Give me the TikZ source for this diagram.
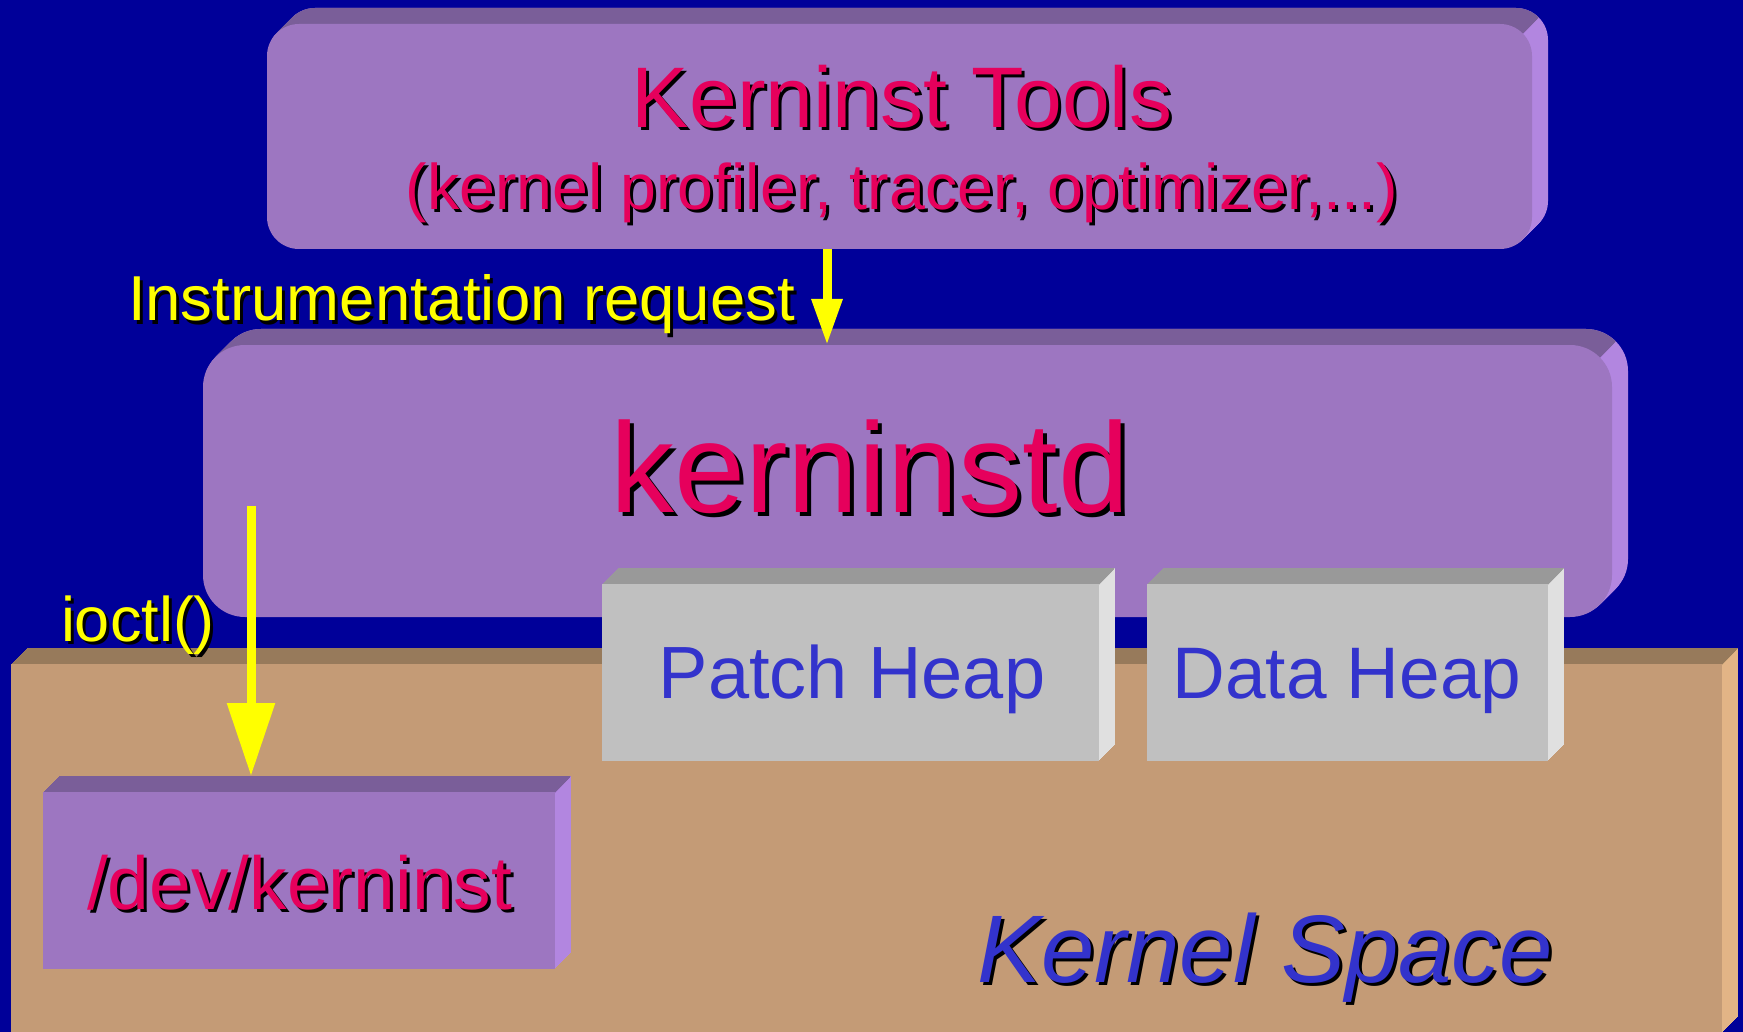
\documentclass[tikz,border=0pt]{standalone}
\usepackage{fontspec}
\setmainfont{Liberation Sans}
\usetikzlibrary{arrows.meta}

\definecolor{KBackdrop}{RGB}{0,0,153}
\definecolor{KViolet}{RGB}{157,118,193}
\definecolor{KVioletTop}{RGB}{122,94,153}
\definecolor{KVioletSide}{RGB}{178,134,224}
\definecolor{KTan}{RGB}{196,155,118}
\definecolor{KTanTop}{RGB}{151,122,91}
\definecolor{KTanSide}{RGB}{226,180,134}
\definecolor{KGrey}{RGB}{192,192,192}
\definecolor{KGreyTop}{RGB}{153,153,153}
\definecolor{KGreySide}{RGB}{224,224,224}
\definecolor{KCrimson}{RGB}{230,0,92}
\definecolor{KYellow}{RGB}{255,255,0}
\definecolor{KInk}{RGB}{51,51,204}
\definecolor{KArrowShade}{RGB}{128,0,128}

% text with a black drop shadow
\newcommand{\dropped}[3][3pt]{%
  \makebox[0pt][l]{\hspace*{#1}\raisebox{-#1}{\textcolor{black}{#3}}}\textcolor{#2}{#3}%
}
% slab with depth: name, left, top, right, bottom, corner radius, colour
\newcommand{\kslab}[7]{%
  \foreach \k in {1,...,16}
    \fill[#7Side, rounded corners=#6] ({#2+\k},{#3-\k}) rectangle ({#4+\k},{#5-\k});
  \begin{scope}
    \clip (#2-40,#3-40) -- (#4+40,#3-40) -- ({#4+#3-#5-40},#5+40) -- (#2-40,#5+40) -- cycle;
    \foreach \k in {1,...,16}
      \fill[#7Top, rounded corners=#6] ({#2+\k},{#3-\k}) rectangle ({#4+\k},{#5-\k});
  \end{scope}
  \node[slab, fill=#7, rounded corners=#6, minimum width=#4-#2, minimum height=#5-#3] (#1) at ({(#2+#4)/2},{(#3+#5)/2}) {};
}

\tikzset{
  slab/.style={draw=none, inner sep=0pt, outer sep=0pt},
  txt/.style={inner sep=0pt, outer sep=0pt},
  flow/.style={draw=KYellow, line width=9pt, preaction={draw=KArrowShade, transform canvas={xshift=3pt}}}
}

\begin{document}
\begin{tikzpicture}[x=1pt, y=-1pt]
    \fill[KBackdrop] (0,0) rectangle (1743,1032);
    \useasboundingbox (0,0) rectangle (1743,1032);

    % Kernel space
    \kslab{kspace}{11}{664}{1722}{1033}{0}{KTan}

    % kerninstd
    \kslab{kd}{203}{345}{1612}{617}{42}{KViolet}

    % Kerninst tools
    \kslab{tools}{267}{24}{1532}{249}{32}{KViolet}

    % Heaps
    \kslab{patch}{602}{584}{1099}{761}{0}{KGrey}
    \kslab{data}{1147}{584}{1548}{761}{0}{KGrey}

    % Device
    \kslab{dev}{43}{792}{555}{969}{0}{KViolet}

    % Texts
    \node[txt, anchor=base, font=\fontsize{86}{90}\selectfont] (toolstitle) at (902,128) {\dropped{KCrimson}{Kerninst Tools}};
    \node[txt, anchor=base, font=\fontsize{64.5}{68}\selectfont] (toolslist) at (902,210) {\dropped{KCrimson}{(kernel profiler, tracer, optimizer,...)}};
    \node[txt, anchor=base west, font=\fontsize{63.5}{68}\selectfont] (reqtext) at (128,321) {\dropped{KYellow}{Instrumentation request}};
    \node[txt, anchor=base west, font=\fontsize{128}{130}\selectfont] (kdtext) at (610,512) {\dropped[4pt]{KCrimson}{kerninstd}};
    \node[txt, anchor=base west, font=\fontsize{63}{66}\selectfont] (ioctltext) at (61,641) {\dropped{KYellow}{ioctl()}};
    \node[txt, anchor=base, font=\fontsize{74}{76}\selectfont, text=KInk] (patchtext) at (852,698) {Patch Heap};
    \node[txt, anchor=base, font=\fontsize{73}{76}\selectfont, text=KInk] (datatext) at (1347,698) {Data Heap};
    \node[txt, anchor=base west, font=\fontsize{75}{78}\selectfont] (devtext) at (87,909) {\dropped{KCrimson}{/dev/kerninst}};
    \node[txt, anchor=base west, font=\itshape\fontsize{96}{100}\selectfont] (kstext) at (977,982) {\dropped{KInk}{Kernel Space}};

    % Arrows
    \coordinate (reqpin) at (827,0);
    \coordinate (ioctlstart) at (251,506);
    \draw[flow, -{Triangle[width=29pt,length=46pt]}] (tools.south -| reqpin) -- (kd.north -| reqpin);
    \draw[flow, -{Triangle[width=46pt,length=73pt]}] (ioctlstart) -- ([yshift=16pt]dev.north -| ioctlstart);
\end{tikzpicture}
\end{document}
